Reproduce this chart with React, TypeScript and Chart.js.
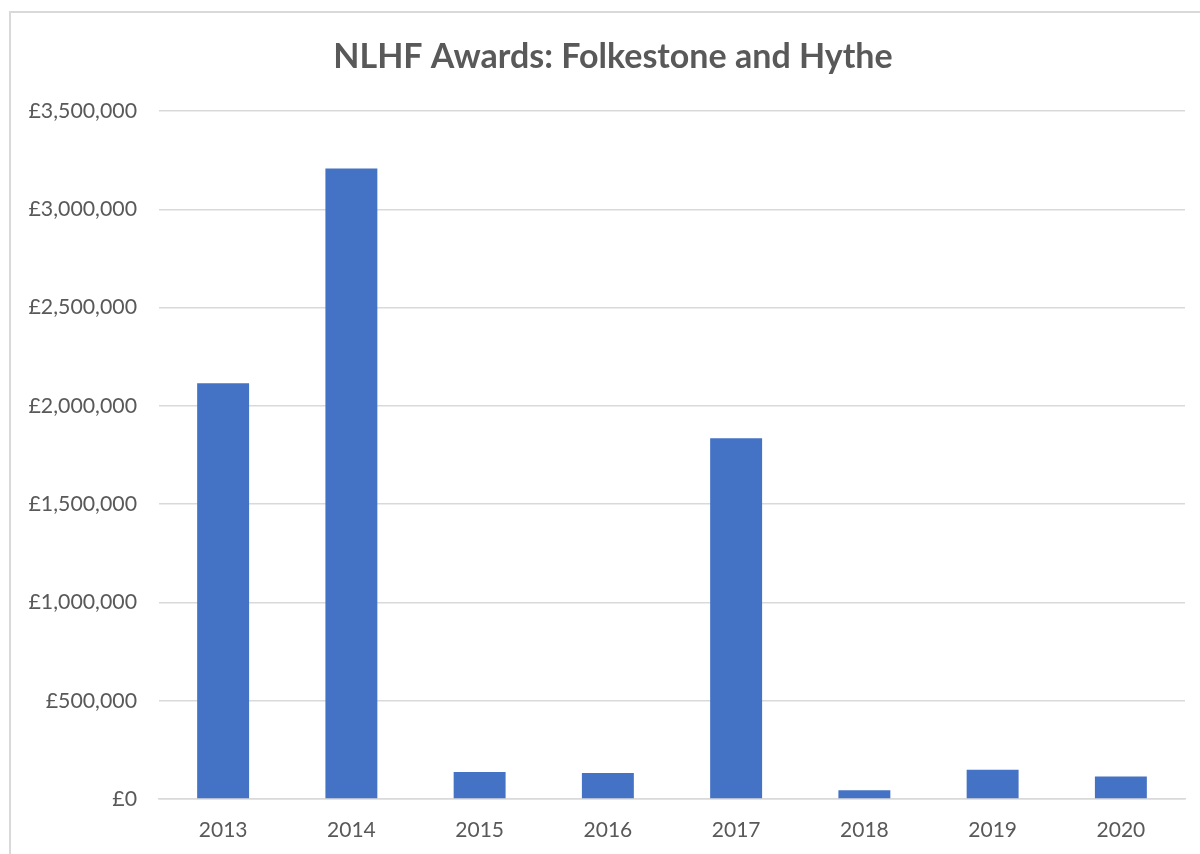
import React, { useEffect, useRef } from "react";
import { Chart, registerables } from "chart.js";

Chart.register(...registerables);

const chartTitle = "NLHF Awards: Folkestone and Hythe";
const years = ["2013", "2014", "2015", "2016", "2017", "2018", "2019", "2020"];
const awards = [2115000, 3208000, 137000, 132000, 1835000, 44000, 149000, 115000];
const yMax = 3500000;
const yStep = 500000;

const TEXT = "#595959";
const GRID = "#d9d9d9";
const BAR = "#4472c4";
const FONT = "Lato, 'Open Sans', sans-serif";

const fmt = (v: number) => "£" + Math.round(v).toLocaleString("en-GB");

export default function App() {
  const ref = useRef<HTMLCanvasElement | null>(null);

  useEffect(() => {
    if (!ref.current) return;
    const chart = new Chart(ref.current, {
      type: "bar",
      data: {
        labels: years,
        datasets: [
          {
            data: awards,
            backgroundColor: BAR,
            borderWidth: 0,
            barPercentage: 0.405,
            categoryPercentage: 1,
            yAxisID: "y",
          },
        ],
      },
      options: {
        responsive: false,
        animation: false,
        devicePixelRatio: 1,
        layout: { padding: { left: 0, right: 0, top: 0, bottom: 22 } },
        plugins: {
          legend: { display: false },
          tooltip: { enabled: false },
          title: {
            display: true,
            text: chartTitle,
            color: TEXT,
            font: { family: FONT, size: 34, weight: "bold", lineHeight: 1.2 },
            padding: { top: 23.6, bottom: 33.6 },
          },
        },
        scales: {
          x: {
            grid: { display: false, drawTicks: false },
            border: { display: true, color: GRID, width: 1.5 },
            ticks: {
              color: TEXT,
              font: { family: FONT, size: 21 },
              padding: 19,
              maxRotation: 0,
            },
            afterFit: (s: any) => {
              s.height = 50;
            },
          },
          y: {
            position: "left",
            min: 0,
            max: yMax,
            grid: { color: GRID, lineWidth: 1.5, drawTicks: false },
            border: { display: false },
            ticks: {
              stepSize: yStep,
              color: TEXT,
              font: { family: FONT, size: 21.3 },
              padding: 22,
              callback: (v: any) => fmt(Number(v)),
            },
            afterFit: (s: any) => {
              s.width = 148;
            },
          },
          yRightSpace: {
            type: "linear",
            position: "right",
            display: true,
            min: 0,
            max: yMax,
            grid: { display: false, drawTicks: false },
            border: { display: false },
            ticks: { display: false },
            afterFit: (s: any) => {
              s.width = 30;
            },
          },
        },
      },
    });
    return () => chart.destroy();
  }, []);

  return (
    <div
      style={{
        position: "fixed",
        left: 0,
        top: 0,
        width: 1200,
        height: 854,
        overflow: "hidden",
        background: "#fff",
      }}
    >
      <div
        style={{
          position: "absolute",
          left: 9,
          top: 11,
          width: 1206,
          height: 860,
          borderLeft: `2px solid ${GRID}`,
          borderTop: `2px solid ${GRID}`,
          boxSizing: "border-box",
        }}
      >
        <canvas ref={ref} width={1204} height={858} style={{ display: "block" }} />
      </div>
    </div>
  );
}
